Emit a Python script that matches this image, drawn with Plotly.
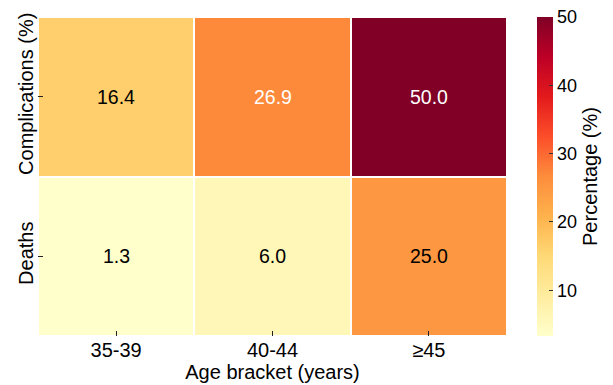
import plotly.graph_objects as go
import plotly.express as px

# Outcome rates (%) by maternal age bracket
age_brackets = ["35-39", "40-44", "≥45"]
outcomes = ["Complications (%)", "Deaths"]
complications = [16.4, 26.9, 50.0]
deaths = [1.3, 6.0, 25.0]

z = [complications, deaths]
scale = px.colors.sequential.YlOrRd
FONT = "Liberation Sans, Arial, sans-serif"

fig = go.Figure(
    go.Heatmap(
        z=z,
        x=age_brackets,
        y=outcomes,
        colorscale=scale,
        zmin=3.3,
        zmax=50,
        xgap=2,
        ygap=2,
        hoverinfo="skip",
        colorbar=dict(
            title=dict(text="Percentage (%)", side="right",
                       font=dict(size=20, family=FONT, color="black")),
            thickness=16,
            len=1,
            lenmode="fraction",
            y=0.5,
            yanchor="middle",
            ypad=0,
            x=1.063,
            xanchor="left",
            xpad=0,
            outlinewidth=0,
            ticks="inside",
            ticklen=4,
            tickcolor="#333",
            tickvals=[10, 20, 30, 40, 50],
            tickfont=dict(size=18, family=FONT, color="black"),
        ),
    )
)

# Cell value labels: light text on the darker cells
for row_name, row in zip(outcomes, z):
    for col_name, val in zip(age_brackets, row):
        fig.add_annotation(
            x=col_name, y=row_name, text=f"{val:.1f}", showarrow=False,
            font=dict(size=19.5, family=FONT,
                      color="white" if val > 25 else "black"),
        )

tick_style = dict(ticks="inside", ticklen=5, tickwidth=1.2, tickcolor="#222",
                  layer="above traces", automargin=False)

fig.update_xaxes(
    title=dict(text="Age bracket (years)", standoff=3,
               font=dict(size=20, family=FONT, color="black")),
    tickfont=dict(size=20, family=FONT, color="black"),
    showgrid=False, zeroline=False, showline=False,
    **tick_style,
)
fig.update_yaxes(
    autorange="reversed",
    tickangle=-90,
    tickfont=dict(size=20, family=FONT, color="black"),
    showgrid=False, zeroline=False, showline=False,
    **tick_style,
)

fig.update_layout(
    width=613,
    height=385,
    margin=dict(l=38, r=98, t=17, b=49),
    plot_bgcolor="white",
    paper_bgcolor="white",
    font=dict(family=FONT, color="black"),
)

fig.write_html("out.html")
